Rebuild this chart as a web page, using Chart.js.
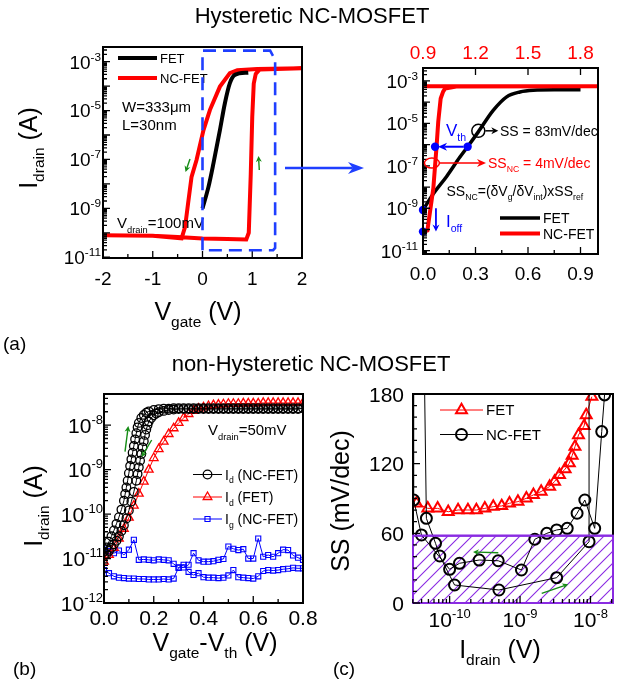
<!DOCTYPE html>
<html>
<head>
<meta charset="utf-8">
<title>NC-MOSFET</title>
<script src="https://cdn.jsdelivr.net/npm/chart.js@4.4.1/dist/chart.umd.min.js"></script>
<style>
  html, body { margin: 0; background: #fff; }
  #fig { position: relative; width: 624px; height: 685px; }
  #fig canvas { position: absolute; left: 0; top: 0; }
</style>
</head>
<body>
<div id="fig">
  <canvas id="pa" width="624" height="685"></canvas>
  <canvas id="pr" width="624" height="685"></canvas>
  <canvas id="pb" width="624" height="685"></canvas>
  <canvas id="pc" width="624" height="685"></canvas>
</div>
<script>
const W = 624, H = 685
const FONT = '"Liberation Sans", Arial, sans-serif'
const RED = '#ff0000', BLUE = '#0000ff', DASH_BLUE = '#1f3fff', GREEN = '#158c15', PURPLE = '#8a2be2'

// ---- (a) left : hysteretic Id-Vg (Vgate in V, log10 of Idrain in A) ----
const aVgFet = [0.0, 0.12, 0.22, 0.35, 0.45, 0.55, 0.65, 0.92]
const aIdFetExp = [-9.0, -8.12, -7.16, -5.8, -4.7, -3.88, -3.54, -3.45]
const aVgNc = [-2.0, -1.0, -0.5, 0.0, 0.5, 0.88, 0.93, 0.97, 1.0, 1.03, 1.07, 1.15, 2.0,
               1.1, 0.7, 0.55, 0.35, 0.15, 0.02, -0.12, -0.22, -0.29, -0.35, -0.42, -1.0, -2.0]
const aIdNcExp = [-10.1, -10.12, -10.17, -10.23, -10.25, -10.27, -10.0, -7.6, -5.26, -3.9, -3.5, -3.32, -3.27,
                  -3.3, -3.35, -3.47, -4.02, -4.97, -5.8, -7.02, -7.71, -8.8, -9.76, -10.23, -10.12, -10.1]
const aXTicks = [-2, -1, 0, 1, 2]
const aXMinor = [-1.5, -0.5, 0.5, 1.5]
const aYLabelExp = [-3, -5, -7, -9, -11]

// ---- (a) right : zoom of the switching region ----
const rVgFet = [0.0, 0.06, 0.135, 0.21, 0.255, 0.316, 0.40, 0.478, 0.554, 0.63, 0.75, 0.9]
const rIdFetExp = [-9.08, -8.3, -7.5, -6.6, -6.1, -5.4, -4.4, -3.75, -3.52, -3.44, -3.42, -3.42]
const rVgNc = [0.905, 0.925, 0.959, 0.978, 0.987, 1.001, 1.015, 1.026, 1.09, 1.9, 0.9]   // red top axis
const rIdNcExp = [-10.1, -10.05, -8.06, -6.03, -4.93, -3.83, -3.5, -3.36, -3.26, -3.25, -3.25]
const rDotV = [0.0, 0.0, 0.069, 0.255]
const rDotExp = [-9.08, -10.1, -6.1, -6.1]
const rXTicks = [0, 0.3, 0.6, 0.9]
const rXMinor = [0.15, 0.45, 0.75]
const rTopTicks = [0.9, 1.2, 1.5, 1.8]

// ---- (b) non-hysteretic, Vgate-Vth in V ----
const bGrid = [0, 0.02, 0.04, 0.06, 0.08, 0.1, 0.12, 0.14, 0.16, 0.18, 0.2, 0.22, 0.24, 0.26, 0.28, 0.3, 0.32, 0.34,
               0.36, 0.38, 0.4, 0.42, 0.44, 0.46, 0.48, 0.5, 0.52, 0.54, 0.56, 0.58, 0.6, 0.62, 0.64, 0.66, 0.68,
               0.7, 0.72, 0.74, 0.76, 0.78, 0.8]
const bIdFetExp = [-11.07, -10.92, -10.76, -10.55, -10.33, -10.08, -9.81, -9.54, -9.27, -9.0, -8.74, -8.54, -8.37,
                   -8.2, -8.07, -7.95, -7.84, -7.75, -7.68, -7.63, -7.6, -7.57, -7.55, -7.54, -7.53, -7.52, -7.52,
                   -7.52, -7.51, -7.51, -7.51, -7.51, -7.5, -7.5, -7.5, -7.5, -7.5, -7.5, -7.5, -7.5, -7.5]
const bNcUpV = [0, 0.01, 0.02, 0.03, 0.04, 0.05, 0.06, 0.07, 0.08, 0.085, 0.09, 0.095, 0.1, 0.105, 0.11, 0.115,
                0.12, 0.125, 0.13, 0.135, 0.14, 0.15, 0.16, 0.17, 0.18, 0.2, 0.22, 0.24, 0.26, 0.28, 0.3, 0.32,
                0.34, 0.36, 0.38, 0.4, 0.42, 0.44, 0.46, 0.48, 0.5, 0.52, 0.54, 0.56, 0.58, 0.6, 0.62, 0.64,
                0.66, 0.68, 0.7, 0.72, 0.74, 0.76, 0.78, 0.8]
const bNcUpExp = [-10.85, -10.75, -10.62, -10.5, -10.37, -10.22, -10.07, -9.9, -9.7, -9.55, -9.4, -9.25, -9.08,
                  -8.92, -8.77, -8.62, -8.47, -8.32, -8.18, -8.05, -7.95, -7.84, -7.77, -7.72, -7.69, -7.66,
                  -7.64, -7.63, -7.63, -7.62, -7.62, -7.62, -7.62, -7.62, -7.62, -7.62, -7.62, -7.62, -7.62,
                  -7.62, -7.62, -7.62, -7.62, -7.62, -7.62, -7.62, -7.62, -7.62, -7.62, -7.62, -7.62, -7.62,
                  -7.62, -7.62, -7.62, -7.62]
const bNcDnV = [0.78, 0.76, 0.74, 0.72, 0.7, 0.68, 0.66, 0.64, 0.62, 0.6, 0.58, 0.56, 0.54, 0.52, 0.5, 0.48,
                0.46, 0.44, 0.42, 0.4, 0.38, 0.36, 0.34, 0.32, 0.3, 0.28, 0.26, 0.24, 0.22, 0.21, 0.2, 0.19,
                0.18, 0.175, 0.17, 0.165, 0.16, 0.155, 0.15, 0.145, 0.14, 0.135, 0.13, 0.12, 0.11, 0.1, 0.09,
                0.08, 0.07, 0.06, 0.05, 0.04, 0.03, 0.02, 0.01, 0]
const bNcDnExp = [-7.64, -7.64, -7.64, -7.64, -7.64, -7.64, -7.64, -7.64, -7.64, -7.64, -7.64, -7.64, -7.64,
                  -7.64, -7.64, -7.64, -7.64, -7.64, -7.64, -7.64, -7.64, -7.64, -7.64, -7.64, -7.64, -7.65,
                  -7.66, -7.68, -7.71, -7.74, -7.78, -7.84, -7.92, -8.0, -8.1, -8.22, -8.36, -8.5, -8.65, -8.8,
                  -8.95, -9.1, -9.25, -9.5, -9.72, -9.92, -10.1, -10.25, -10.38, -10.5, -10.6, -10.68, -10.76,
                  -10.83, -10.9, -10.95]
const bIgLowExp = [-11.26, -11.33, -11.4, -11.43, -11.44, -11.45, -11.45, -11.46, -11.46, -11.47, -11.47, -11.47,
                   -11.46, -11.47, -11.45, -11.2, -11.14, -11.3, -11.37, -11.33, -11.42, -11.43, -11.43, -11.44,
                   -11.43, -11.38, -11.26, -11.42, -11.43, -11.44, -11.45, -11.4, -11.28, -11.26, -11.27, -11.26,
                   -11.24, -11.23, -11.21, -11.22, -11.22]
// upper gate-current branch, listed from 0.8 V back to 0 V
const bIgHighExp = [-11.03, -10.98, -10.93, -10.81, -10.8, -10.88, -10.96, -10.92, -10.96, -10.55, -11.0, -11.0,
                    -10.79, -10.81, -10.78, -10.73, -11.01, -11.03, -11.06, -11.07, -11.07, -11.04, -10.88, -11.14,
                    -11.2, -11.21, -11.12, -11.04, -11.03, -11.02, -11.04, -11.03, -11.02, -11.03, -10.58, -10.8,
                    -10.92, -10.82, -10.88, -10.83, -10.8]
const bXTicks = [0, 0.2, 0.4, 0.6, 0.8]
const bXMinor = [0.1, 0.3, 0.5, 0.7]
const bYExp = [-12, -11, -10, -9, -8]

// ---- (c) SS vs Idrain (log10 of Idrain, SS in mV/dec) ----
const cIdFetExp = [-10.47, -10.31, -10.17, -10.02, -9.88, -9.74, -9.62, -9.5, -9.38, -9.26, -9.15, -9.03, -8.91,
                   -8.81, -8.7, -8.58, -8.51, -8.44, -8.36, -8.3, -8.26, -8.22, -8.17, -8.09, -8.06, -7.98]
const cSsFet = [85.9, 81.5, 81.5, 78.6, 80.1, 80.1, 80.1, 81.5, 83, 83.6, 85.9, 87.3, 90.2, 93.1, 96, 100.3, 104.6,
                110.4, 115.3, 120.4, 127, 134.6, 144.7, 152.5, 161.9, 177.7]
const cNcUpExp = [-10.37, -10.33, -10.2, -10.14, -9.93, -9.3, -8.48, -8.02, -8.02]
const cSsNcUp = [250, 72.9, 51.4, 40.5, 15.5, 11.2, 21.8, 52.8, 250]
const cNcDnExp = [-7.79, -7.8, -7.84, -7.94, -8.08, -8.19, -8.33, -8.48, -8.62, -8.79, -8.98, -9.31, -9.58, -9.86,
                  -10.0, -10.4, -10.51, -10.51]
const cSsNcDn = [250, 179.2, 147.6, 64.3, 88.7, 77.3, 64.3, 62.9, 60, 54.9, 28.4, 36.4, 37, 34.2, 29, 58.6, 88.7, 250]
const cSsLimit = 58
const cXExpRange = [-10.52, -7.68]
const cXExp = [-10, -9, -8]
const cYTicks = [0, 60, 120, 180]
const cYMinor = [10, 20, 30, 40, 50, 70, 80, 90, 100, 110, 130, 140, 150, 160, 170]

const logPts = (xs, es) => xs.map((x, i) => ({ x, y: 10 ** es[i] }))
const decades = (lo, hi) => { const o = []; for (let d = lo; d <= hi; d++) o.push(10 ** d); return o }
const logMinor = (lo, hi) => { const o = []; for (let d = lo; d < hi; d++) for (let m = 2; m < 10; m++) o.push(m * 10 ** d); return o }

// text with sub/superscripts, y is the middle of the capitals
function rich(ctx, x, y, parts, size, color, align, rot) {
  ctx.save()
  ctx.translate(x, y)
  if (rot) ctx.rotate(rot)
  ctx.fillStyle = color
  ctx.textBaseline = 'alphabetic'
  const segs = parts.map(p => {
    const [t, k] = Array.isArray(p) ? p : [p, '']
    const s = k ? size * 0.62 : size
    ctx.font = s + 'px ' + FONT
    return { t, k, s, w: ctx.measureText(t).width }
  })
  const total = segs.reduce((a, g) => a + g.w, 0)
  let cx = align === 'center' ? -total / 2 : align === 'right' ? -total : 0
  for (const g of segs) {
    ctx.font = g.s + 'px ' + FONT
    const dy = g.k === 'sub' ? size * 0.28 : g.k === 'sup' ? -size * 0.42 : 0
    ctx.fillText(g.t, cx, size * 0.36 + dy)
    cx += g.w
  }
  ctx.restore()
}

function arrow(ctx, x1, y1, x2, y2, color, lw, head, hw) {
  const a = Math.atan2(y2 - y1, x2 - x1)
  ctx.save()
  ctx.strokeStyle = color; ctx.fillStyle = color; ctx.lineWidth = lw
  ctx.beginPath()
  ctx.moveTo(x1, y1)
  ctx.lineTo(x2 - Math.cos(a) * head * 0.7, y2 - Math.sin(a) * head * 0.7)
  ctx.stroke()
  ctx.translate(x2, y2); ctx.rotate(a)
  ctx.beginPath()
  ctx.moveTo(0, 0); ctx.lineTo(-head, -hw); ctx.lineTo(-head * 0.7, 0); ctx.lineTo(-head, hw)
  ctx.closePath(); ctx.fill()
  ctx.restore()
}

function marker(ctx, style, x, y, r, color, lw) {
  ctx.save()
  ctx.strokeStyle = color; ctx.lineWidth = lw
  ctx.beginPath()
  if (style === 'circle') ctx.arc(x, y, r, 0, 2 * Math.PI)
  else if (style === 'triangle') {
    ctx.moveTo(x, y - r); ctx.lineTo(x + r * 0.866, y + r * 0.5); ctx.lineTo(x - r * 0.866, y + r * 0.5); ctx.closePath()
  } else ctx.rect(x - r * 0.707, y - r * 0.707, r * 1.414, r * 1.414)
  ctx.stroke()
  ctx.restore()
}

function legendRow(ctx, x1, x2, y, color, lw, style, r, mlw, text, size) {
  ctx.save()
  ctx.strokeStyle = color; ctx.lineWidth = lw
  ctx.beginPath(); ctx.moveTo(x1, y); ctx.lineTo(x2, y); ctx.stroke()
  ctx.restore()
  if (style) marker(ctx, style, (x1 + x2) / 2, y, r, color, mlw)
  rich(ctx, x2 + 3, y, text, size, '#000', 'left')
}

function frame(ctx, a) {
  ctx.save()
  ctx.strokeStyle = '#000'; ctx.lineWidth = 2
  ctx.strokeRect(a.left, a.top, a.right - a.left, a.bottom - a.top)
  ctx.restore()
}

function ticks(ctx, sc, a, vals, len, side) {
  ctx.save()
  ctx.strokeStyle = '#000'; ctx.lineWidth = 1.3
  ctx.beginPath()
  for (const v of vals) {
    const p = sc.getPixelForValue(v)
    if (side === 'left') {
      if (p < a.top - 0.5 || p > a.bottom + 0.5) continue
      ctx.moveTo(a.left, p); ctx.lineTo(a.left + len, p)
    } else {
      if (p < a.left - 0.5 || p > a.right + 0.5) continue
      const y0 = side === 'top' ? a.top : a.bottom
      ctx.moveTo(p, y0); ctx.lineTo(p, side === 'top' ? y0 + len : y0 - len)
    }
  }
  ctx.stroke()
  ctx.restore()
}

function hatchPattern() {
  const c = document.createElement('canvas')
  c.width = 12; c.height = 12
  const g = c.getContext('2d')
  g.strokeStyle = PURPLE; g.lineWidth = 1.1
  g.beginPath()
  g.moveTo(0, 12); g.lineTo(12, 0)
  g.moveTo(-1, 1); g.lineTo(1, -1)
  g.moveTo(11, 13); g.lineTo(13, 11)
  g.stroke()
  return g.createPattern(c, 'repeat')
}

function makeChart(id, area, scales, datasets, draw) {
  return new Chart(document.getElementById(id), {
    type: 'line',
    data: { datasets },
    options: {
      responsive: false,
      animation: false,
      events: [],
      layout: { padding: { left: area[0], top: area[1], right: W - area[2], bottom: H - area[3] } },
      scales,
      plugins: { legend: { display: false }, tooltip: { enabled: false } }
    },
    plugins: [{ id: 'deco_' + id, afterDraw: c => draw(c, c.ctx, c.chartArea) }]
  })
}

const lineSet = (data, color, width, extra) => Object.assign({
  data, borderColor: color, borderWidth: width, pointRadius: 0, fill: false, tension: 0
}, extra || {})

const markSet = (data, color, style, r, mlw) => ({
  data, borderColor: color, borderWidth: 1, fill: false, tension: 0,
  pointStyle: style, pointRadius: r, pointBorderWidth: mlw,
  pointBorderColor: color, pointBackgroundColor: 'rgba(0,0,0,0)'
})

// ---------------- panel (a) left ----------------
makeChart('pa', [103, 47, 302, 258], {
  x: { type: 'linear', display: false, min: -2, max: 2 },
  y: { type: 'logarithmic', display: false, min: 10 ** -11.03, max: 10 ** -2.4 }
}, [
  lineSet(logPts(aVgFet, aIdFetExp), '#000', 4, { cubicInterpolationMode: 'monotone' }),
  lineSet(logPts(aVgNc, aIdNcExp), RED, 4)
], (c, ctx, a) => {
  const x = c.scales.x, y = c.scales.y
  frame(ctx, a)
  ticks(ctx, x, a, aXTicks, 7, 'bottom')
  ticks(ctx, x, a, aXMinor, 4, 'bottom')
  ticks(ctx, y, a, decades(-11, -3), 7, 'left')
  ticks(ctx, y, a, logMinor(-11, -2), 4, 'left')
  aXTicks.forEach(v => rich(ctx, x.getPixelForValue(v), 278, [String(v)], 19, '#000', 'center'))
  aYLabelExp.forEach(e => rich(ctx, a.left - 2, y.getPixelForValue(10 ** e), ['10', [String(e), 'sup']], 19, '#000', 'right'))

  rich(ctx, 312, 15, ['Hysteretic NC-MOSFET'], 22, '#000', 'center')
  rich(ctx, 198, 311, ['V', ['gate', 'sub'], ' (V)'], 25, '#000', 'center')
  rich(ctx, 28, 148, ['I', ['drain', 'sub'], ' (A)'], 25, '#000', 'center', -Math.PI / 2)
  rich(ctx, 3, 343, ['(a)'], 19, '#000', 'left')

  legendRow(ctx, 118, 157, 58, '#000', 4, null, 0, 0, ['FET'], 13)
  legendRow(ctx, 118, 157, 78, RED, 4, null, 0, 0, ['NC-FET'], 13)
  rich(ctx, 122, 107, ['W=333\u03bcm'], 15, '#000', 'left')
  rich(ctx, 122, 125, ['L=30nm'], 15, '#000', 'left')
  rich(ctx, 117, 223, ['V', ['drain', 'sub'], '=100mV'], 15, '#000', 'left')

  // sweep direction
  arrow(ctx, 190, 159, 185.5, 172, GREEN, 1.4, 6, 3)
  arrow(ctx, 259.3, 170, 258.5, 156, GREEN, 1.4, 6, 3)

  // dashed zoom box, in data units
  const box = [[0, -10.71], [0, -2.55], [1.36, -2.55], [1.46, -2.92], [1.46, -10.62], [1.42, -10.71]]
  ctx.save()
  ctx.strokeStyle = DASH_BLUE; ctx.lineWidth = 2.6; ctx.setLineDash([13, 7])
  ctx.beginPath()
  box.forEach(([v, e], i) => {
    const px = x.getPixelForValue(v), py = y.getPixelForValue(10 ** e)
    i ? ctx.lineTo(px, py) : ctx.moveTo(px, py)
  })
  ctx.closePath(); ctx.stroke()
  ctx.restore()
  arrow(ctx, 285, 168, 364, 168, DASH_BLUE, 2.6, 16, 6)
})

// ---------------- panel (a) right ----------------
makeChart('pr', [423, 68, 598, 254], {
  x: { type: 'linear', display: false, min: 0, max: 1.0 },
  x2: { type: 'linear', display: false, position: 'top', min: 0.9, max: 1.9 },
  y: { type: 'logarithmic', display: false, min: 10 ** -11.155, max: 10 ** -2.39 }
}, [
  { data: logPts(rDotV, rDotExp), showLine: false, pointRadius: 4.2, pointBackgroundColor: BLUE,
    pointBorderColor: BLUE, pointBorderWidth: 0, borderColor: BLUE, clip: false },
  lineSet(logPts(rVgNc, rIdNcExp), RED, 4, { xAxisID: 'x2' }),
  lineSet(logPts(rVgFet, rIdFetExp), '#000', 3.5, { cubicInterpolationMode: 'monotone' })
], (c, ctx, a) => {
  const x = c.scales.x, x2 = c.scales.x2, y = c.scales.y
  const px = v => x.getPixelForValue(v), py = e => y.getPixelForValue(10 ** e)
  frame(ctx, a)
  ticks(ctx, x, a, rXTicks, 7, 'bottom')
  ticks(ctx, x, a, rXMinor, 4, 'bottom')
  ticks(ctx, x2, a, rTopTicks, 7, 'top')
  ticks(ctx, y, a, decades(-11, -3), 7, 'left')
  ticks(ctx, y, a, logMinor(-12, -2), 4, 'left')
  rXTicks.forEach(v => rich(ctx, px(v), 273, [v.toFixed(1)], 19, '#000', 'center'))
  rTopTicks.forEach(v => rich(ctx, x2.getPixelForValue(v), 52, [v.toFixed(1)], 19, RED, 'center'))
  aYLabelExp.forEach(e => rich(ctx, a.left - 5, py(e), ['10', [String(e), 'sup']], 19, '#000', 'right'))

  // Vth shift
  arrow(ctx, px(0.255) - 4, py(-6.1), px(0.069) + 3, py(-6.1), BLUE, 2, 9, 4)
  rich(ctx, 446, 130, ['V', ['th', 'sub']], 17, BLUE, 'left')
  // SS of the FET
  ctx.save(); ctx.strokeStyle = '#000'; ctx.lineWidth = 1.5
  ctx.beginPath(); ctx.ellipse(px(0.316), py(-5.35), 6.5, 6.5, 0, 0, 2 * Math.PI); ctx.stroke(); ctx.restore()
  arrow(ctx, px(0.316) + 7, py(-5.35), px(0.316) + 20, py(-5.35), '#000', 1.5, 7, 3.5)
  rich(ctx, 500, py(-5.35), ['SS = 83mV/dec'], 14, '#000', 'left')
  // SS of the NC-FET
  ctx.save(); ctx.strokeStyle = RED; ctx.lineWidth = 1.5
  ctx.beginPath(); ctx.ellipse(px(0.051), py(-6.87), 7.5, 5, 0, 0, 2 * Math.PI); ctx.stroke(); ctx.restore()
  arrow(ctx, px(0.051) + 7.5, py(-6.87), 486, py(-6.87), RED, 1.5, 9, 4)
  rich(ctx, 488, py(-6.87), ['SS', ['NC', 'sub'], ' = 4mV/dec'], 14, RED, 'left')
  rich(ctx, 446.5, 191, ['SS', ['NC', 'sub'], '=(\u03b4V', ['g', 'sub'], '/\u03b4V', ['int', 'sub'], ')xSS', ['ref', 'sub']], 14, '#000', 'left')
  // Ioff
  arrow(ctx, px(0.074), py(-9.0), px(0.074), py(-10.1), BLUE, 1.8, 7, 3.5)
  rich(ctx, 446, 221, ['I', ['off', 'sub']], 17, BLUE, 'left')

  legendRow(ctx, 500, 540, 218, '#000', 3.5, null, 0, 0, ['FET'], 14)
  legendRow(ctx, 500, 540, 233.5, RED, 4, null, 0, 0, ['NC-FET'], 14)
})

// ---------------- panel (b) ----------------
makeChart('pb', [104, 394, 303, 603], {
  x: { type: 'linear', display: false, min: 0, max: 0.8 },
  y: { type: 'logarithmic', display: false, min: 10 ** -12, max: 10 ** -7.3 }
}, [
  markSet(logPts(bNcUpV.concat(bNcDnV), bNcUpExp.concat(bNcDnExp)), '#000', 'circle', 4.3, 1.3),
  markSet(logPts(bGrid, bIdFetExp), RED, 'triangle', 5, 1.3),
  markSet(logPts(bGrid.concat(bGrid.slice().reverse()), bIgLowExp.concat(bIgHighExp)), BLUE, 'rect', 3.6, 1.1)
], (c, ctx, a) => {
  const x = c.scales.x, y = c.scales.y
  frame(ctx, a)
  ticks(ctx, x, a, bXTicks, 7, 'bottom')
  ticks(ctx, x, a, bXMinor, 4, 'bottom')
  ticks(ctx, y, a, decades(-12, -8), 7, 'left')
  ticks(ctx, y, a, logMinor(-12, -7), 4, 'left')
  bXTicks.forEach(v => rich(ctx, x.getPixelForValue(v), 617, [v.toFixed(1)], 21, '#000', 'center'))
  bYExp.forEach(e => rich(ctx, a.left - 1, y.getPixelForValue(10 ** e), ['10', [String(e), 'sup']], 21, '#000', 'right'))

  rich(ctx, 311, 363, ['non-Hysteretic NC-MOSFET'], 22, '#000', 'center')
  rich(ctx, 215, 642, ['V', ['gate', 'sub'], '-V', ['th', 'sub'], ' (V)'], 25, '#000', 'center')
  rich(ctx, 33, 506, ['I', ['drain', 'sub'], ' (A)'], 25, '#000', 'center', -Math.PI / 2)
  rich(ctx, 13, 668, ['(b)'], 19, '#000', 'left')

  rich(ctx, 208, 430, ['V', ['drain', 'sub'], '=50mV'], 15, '#000', 'left')
  legendRow(ctx, 193, 222, 474.5, '#000', 1, 'circle', 4.3, 1.3, ['I', ['d', 'sub'], ' (NC-FET)'], 14)
  legendRow(ctx, 193, 222, 497, RED, 1, 'triangle', 5, 1.3, ['I', ['d', 'sub'], ' (FET)'], 14)
  legendRow(ctx, 193, 222, 519, BLUE, 1, 'rect', 3.6, 1.1, ['I', ['g', 'sub'], ' (NC-FET)'], 14)

  arrow(ctx, 125, 451.7, 128.3, 426, GREEN, 1.4, 6, 3)
  arrow(ctx, 151.7, 440, 141.5, 457, GREEN, 1.4, 6, 3)
})

// ---------------- panel (c) ----------------
makeChart('pc', [413, 394, 613, 603], {
  x: { type: 'logarithmic', display: false, min: 10 ** cXExpRange[0], max: 10 ** cXExpRange[1] },
  y: { type: 'linear', display: false, min: 0, max: 180 }
}, [
  markSet(cNcUpExp.map((e, i) => ({ x: 10 ** e, y: cSsNcUp[i] })), '#000', 'circle', 5.5, 2),
  markSet(cNcDnExp.map((e, i) => ({ x: 10 ** e, y: cSsNcDn[i] })), '#000', 'circle', 5.5, 2),
  markSet(cIdFetExp.map((e, i) => ({ x: 10 ** e, y: cSsFet[i] })), RED, 'triangle', 6.3, 2),
  lineSet([{ x: 10 ** cXExpRange[0], y: cSsLimit }, { x: 10 ** cXExpRange[1], y: cSsLimit }], PURPLE, 2,
    { fill: 'origin', backgroundColor: hatchPattern() })
], (c, ctx, a) => {
  const x = c.scales.x, y = c.scales.y
  frame(ctx, a)
  ctx.save()
  ctx.strokeStyle = PURPLE; ctx.lineWidth = 2
  const top = y.getPixelForValue(cSsLimit)
  ctx.strokeRect(a.left, top, a.right - a.left, y.getPixelForValue(0) - top)
  ctx.restore()
  ticks(ctx, x, a, decades(-10, -8), 7, 'bottom')
  ticks(ctx, x, a, logMinor(-11, -7), 4, 'bottom')
  ticks(ctx, y, a, cYTicks, 7, 'left')
  ticks(ctx, y, a, cYMinor, 4, 'left')
  cXExp.forEach(e => rich(ctx, x.getPixelForValue(10 ** e), 619, ['10', [String(e), 'sup']], 21, '#000', 'center'))
  cYTicks.forEach(v => rich(ctx, a.left - 9, y.getPixelForValue(v), [String(v)], 21, '#000', 'right'))

  rich(ctx, 340, 501, ['SS (mV/dec)'], 25, '#000', 'center', -Math.PI / 2)
  rich(ctx, 500, 649, ['I', ['drain', 'sub'], ' (V)'], 25, '#000', 'center')
  rich(ctx, 333, 668, ['(c)'], 19, '#000', 'left')

  legendRow(ctx, 440, 483, 410, RED, 1, 'triangle', 6.3, 2, ['FET'], 15)
  legendRow(ctx, 440, 483, 434.5, '#000', 1, 'circle', 5.5, 2, ['NC-FET'], 15)

  arrow(ctx, 498.3, 552.7, 473, 552, GREEN, 1.4, 6, 3)
  arrow(ctx, 541.7, 593.3, 568.3, 584.3, GREEN, 1.4, 6, 3)
})
</script>
</body>
</html>
